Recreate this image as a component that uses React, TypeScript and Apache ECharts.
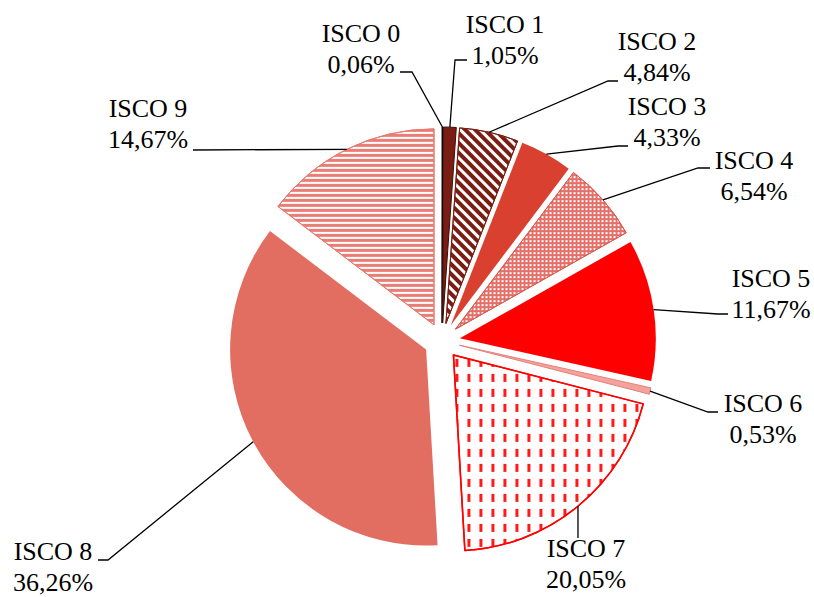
import React, { useEffect, useRef } from 'react';
import * as echarts from 'echarts';

// ---- data ----
const categories = ['ISCO 0', 'ISCO 1', 'ISCO 2', 'ISCO 3', 'ISCO 4', 'ISCO 5', 'ISCO 6', 'ISCO 7', 'ISCO 8', 'ISCO 9'];
const shares = [0.06, 1.05, 4.84, 4.33, 6.54, 11.67, 0.53, 20.05, 36.26, 14.67];

// ---- layout ----
const CENTER = [442, 341];
const RADIUS = 196;
const EXPLODE = 18;
const FONT = '"Liberation Serif", "Times New Roman", serif';

// label block centre (x, y) and leader line end / elbow
const LABEL_LAYOUT: { x: number; y: number; end: number[]; elbow?: number[] }[] = [
  { x: 361, y: 49, end: [400, 72], elbow: [412, 72] },
  { x: 505, y: 40, end: [467, 60], elbow: [455, 60] },
  { x: 657, y: 57, end: [618, 81], elbow: [608, 81] },
  { x: 667, y: 122, end: [628, 146], elbow: [618, 146] },
  { x: 754, y: 176, end: [710, 168], elbow: [698, 168] },
  { x: 771, y: 294, end: [728, 314], elbow: [718, 314] },
  { x: 763, y: 419, end: [718, 412], elbow: [708, 412] },
  { x: 586, y: 564, end: [578, 538] },
  { x: 53, y: 567, end: [98, 560], elbow: [108, 560] },
  { x: 148, y: 124, end: [193, 150] },
];

const SLICE_STYLES: any[] = [
  { color: '#3A0C07', borderColor: '#000000', borderWidth: 1 },
  { color: '#7A1E13', borderColor: '#3B0D08', borderWidth: 1 },
  {
    color: '#FFFFFF', borderColor: '#7A1E13', borderWidth: 1,
    decal: { symbol: 'rect', symbolKeepAspect: false, color: '#7A1E13', dashArrayX: [1, 0], dashArrayY: [3.5, 3], rotation: Math.PI / 4 },
  },
  { color: '#D9402F', borderWidth: 0 },
  {
    color: '#E4706800', borderColor: '#D9574D', borderWidth: 1,
  },
  { color: '#FF0000', borderWidth: 0 },
  { color: '#F4A29C', borderColor: '#E6807A', borderWidth: 1 },
  {
    color: '#FFFFFF', borderColor: '#FF0000', borderWidth: 1.5,
    decal: { symbol: 'rect', symbolKeepAspect: false, color: '#FF1A1A', dashArrayX: [2.5, 8.5], dashArrayY: [8, 7] },
  },
  { color: '#E26D61', borderWidth: 0 },
  {
    color: '#FFFFFF', borderColor: '#E9776D', borderWidth: 1,
    decal: { symbol: 'rect', symbolKeepAspect: false, color: '#EA7D75', dashArrayX: [1, 0], dashArrayY: [2.5, 2] },
  },
];
SLICE_STYLES[4] = {
  color: '#E4706A', borderColor: '#D9574D', borderWidth: 1,
  decal: { symbol: 'rect', symbolKeepAspect: false, color: '#FFFFFF', dashArrayX: [2, 2], dashArrayY: [2, 2] },
};

const fmt = (v: number) => v.toFixed(2).replace('.', ',') + '%';

function fallbackAnchor(i: number): number[] {
  const total = shares.reduce((a, b) => a + b, 0);
  let before = 0;
  for (let k = 0; k < i; k++) before += shares[k];
  const mid = ((before + shares[i] / 2) / total) * Math.PI * 2;
  const r = RADIUS + EXPLODE;
  return [CENTER[0] + r * Math.sin(mid), CENTER[1] - r * Math.cos(mid)];
}

export default function App() {
  const ref = useRef<HTMLDivElement>(null);
  useEffect(() => {
    if (!ref.current) return;
    const chart = echarts.init(ref.current, undefined, { renderer: 'svg' });
    const sliceData = categories.map((name, i) => {
      const st = SLICE_STYLES[i];
      return {
        name,
        value: shares[i],
        selected: true,
        itemStyle: st,
        select: { itemStyle: st },
        emphasis: { disabled: true },
      };
    });
    const labelData = categories.map((name, i) => ({ name, value: shares[i] }));
    chart.setOption({
      animation: false,
      backgroundColor: '#FFFFFF',
      series: [
        {
          type: 'pie',
          center: CENTER,
          radius: RADIUS,
          startAngle: 90,
          clockwise: true,
          selectedMode: 'multiple',
          selectedOffset: EXPLODE,
          avoidLabelOverlap: false,
          silent: true,
          label: { show: false },
          labelLine: { show: false },
          data: sliceData,
          z: 2,
        },
        {
          type: 'pie',
          center: CENTER,
          radius: RADIUS + EXPLODE,
          startAngle: 90,
          clockwise: true,
          selectedMode: false,
          avoidLabelOverlap: false,
          silent: true,
          itemStyle: { color: 'rgba(0,0,0,0)', borderWidth: 0 },
          emphasis: { disabled: true },
          label: {
            show: true,
            position: 'outside',
            color: '#000000',
            fontFamily: FONT,
            fontSize: 26,
            lineHeight: 31,
            align: 'center',
            formatter: (p: any) => `${p.name}\n${fmt(p.value)}`,
          },
          labelLine: { show: true, length: 10, length2: 10, lineStyle: { color: '#000000', width: 1.3 } },
          labelLayout: (p: any) => {
            const L = LABEL_LAYOUT[p.dataIndex];
            const a = p.labelLinePoints && p.labelLinePoints[0] ? p.labelLinePoints[0] : fallbackAnchor(p.dataIndex);
            const pts = L.elbow ? [a, L.elbow, L.end] : [a, L.end];
            return { x: L.x, y: L.y, align: 'center', verticalAlign: 'middle', labelLinePoints: pts };
          },
          data: labelData,
          z: 3,
        },
      ],
    });
    return () => chart.dispose();
  }, []);
  return <div ref={ref} style={{ position: 'fixed', left: 0, top: 0, width: 814, height: 597 }} />;
}
